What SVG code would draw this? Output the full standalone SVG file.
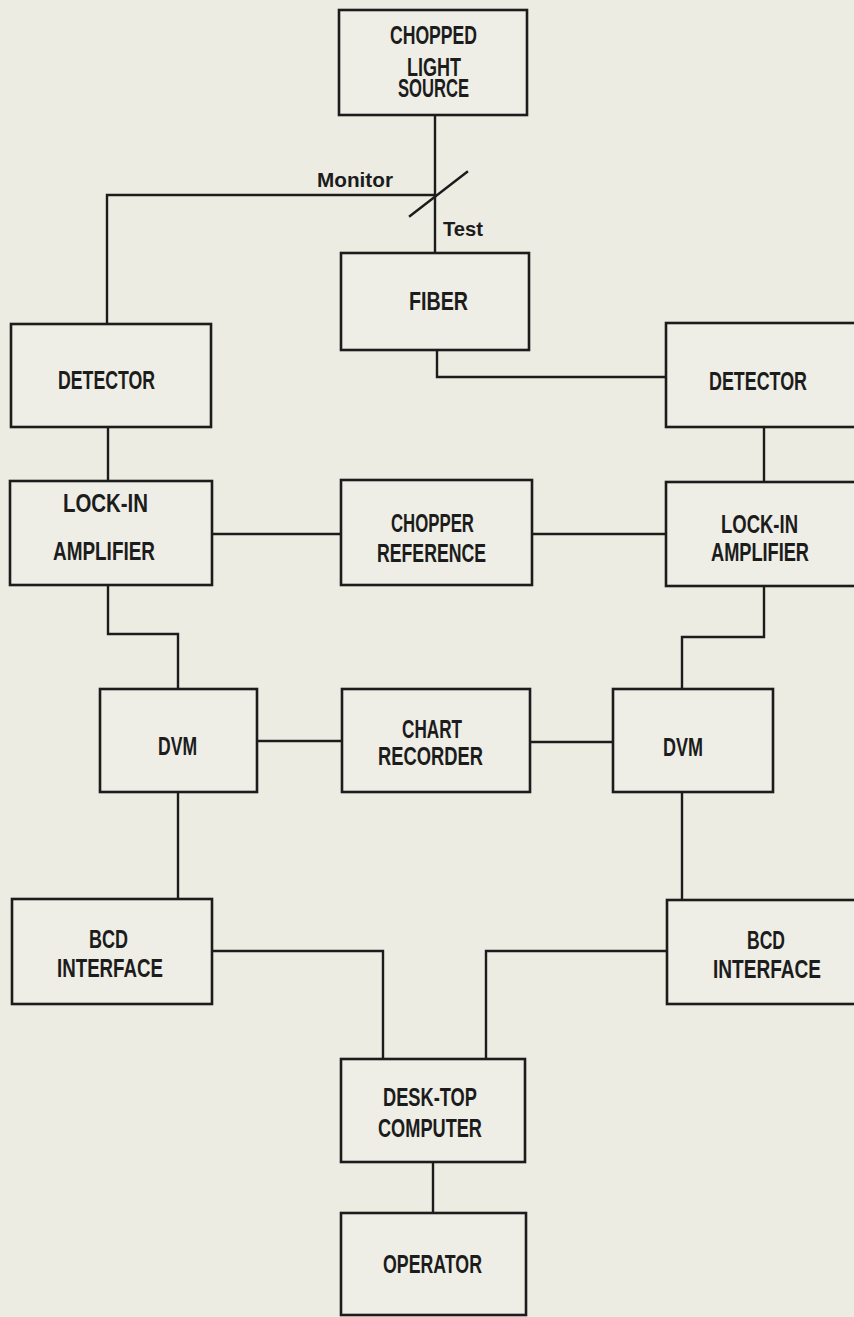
<svg xmlns="http://www.w3.org/2000/svg" width="854" height="1317" viewBox="0 0 854 1317">
<style>
.bg{fill:#ecece3}
.box{fill:#eeeee6;stroke:#1c1c1c;stroke-width:2.6}
.ln{fill:none;stroke:#1c1c1c;stroke-width:2.4;stroke-linejoin:miter;stroke-linecap:square}
.t{font-family:"Liberation Sans",Arial,sans-serif;font-weight:bold;font-size:25px;fill:#1c1c1c}
.lbl{font-family:"Liberation Sans",Arial,sans-serif;font-weight:bold;font-size:21px;fill:#1c1c1c}
</style>
<rect class="bg" x="0" y="0" width="854" height="1317"/>
<g id="connectors">
<path class="ln" d="M435,115 V253"/>
<path class="ln" d="M435,195 H107 V324"/>
<path class="ln" d="M410,216 L467,172"/>
<path class="ln" d="M437,350 V377 H666"/>
<path class="ln" d="M108,427 V481"/>
<path class="ln" d="M764,427 V482"/>
<path class="ln" d="M212,534 H341"/>
<path class="ln" d="M532,534 H666"/>
<path class="ln" d="M108,585 V634 H178 V689"/>
<path class="ln" d="M764,586 V637 H682 V689"/>
<path class="ln" d="M257,741 H342"/>
<path class="ln" d="M530,742 H613"/>
<path class="ln" d="M178,792 V899"/>
<path class="ln" d="M682,792 V900"/>
<path class="ln" d="M212,951 H383 V1059"/>
<path class="ln" d="M667,951 H486 V1059"/>
<path class="ln" d="M433,1162 V1213"/>
<text class="lbl" x="317" y="187" textLength="76" lengthAdjust="spacingAndGlyphs">Monitor</text>
<text class="lbl" x="443" y="236" textLength="40" lengthAdjust="spacingAndGlyphs">Test</text>
</g>
<g id="source">
<rect class="box" x="339" y="10" width="188" height="105"/>
<text class="t" x="390" y="44" textLength="87" lengthAdjust="spacingAndGlyphs">CHOPPED</text>
<text class="t" x="407" y="76" textLength="54" lengthAdjust="spacingAndGlyphs">LIGHT</text>
<text class="t" x="398" y="97" textLength="71" lengthAdjust="spacingAndGlyphs">SOURCE</text>
</g>
<g id="fiber">
<rect class="box" x="341" y="253" width="188" height="97"/>
<text class="t" x="409" y="310" textLength="59" lengthAdjust="spacingAndGlyphs">FIBER</text>
</g>
<g id="detector-left">
<rect class="box" x="11" y="324" width="200" height="103"/>
<text class="t" x="58" y="389" textLength="97" lengthAdjust="spacingAndGlyphs">DETECTOR</text>
</g>
<g id="detector-right">
<rect class="box" x="666" y="323" width="204" height="104"/>
<text class="t" x="709" y="390" textLength="98" lengthAdjust="spacingAndGlyphs">DETECTOR</text>
</g>
<g id="lockin-left">
<rect class="box" x="10" y="481" width="202" height="104"/>
<text class="t" x="63" y="512" textLength="85" lengthAdjust="spacingAndGlyphs">LOCK-IN</text>
<text class="t" x="53" y="560" textLength="102" lengthAdjust="spacingAndGlyphs">AMPLIFIER</text>
</g>
<g id="chopper-reference">
<rect class="box" x="341" y="480" width="191" height="105"/>
<text class="t" x="391" y="532" textLength="83" lengthAdjust="spacingAndGlyphs">CHOPPER</text>
<text class="t" x="377" y="562" textLength="109" lengthAdjust="spacingAndGlyphs">REFERENCE</text>
</g>
<g id="lockin-right">
<rect class="box" x="666" y="482" width="204" height="104"/>
<text class="t" x="721" y="533" textLength="77" lengthAdjust="spacingAndGlyphs">LOCK-IN</text>
<text class="t" x="711" y="561" textLength="98" lengthAdjust="spacingAndGlyphs">AMPLIFIER</text>
</g>
<g id="dvm-left">
<rect class="box" x="100" y="689" width="157" height="103"/>
<text class="t" x="158" y="755" textLength="39" lengthAdjust="spacingAndGlyphs">DVM</text>
</g>
<g id="chart-recorder">
<rect class="box" x="342" y="689" width="188" height="103"/>
<text class="t" x="402" y="738" textLength="60" lengthAdjust="spacingAndGlyphs">CHART</text>
<text class="t" x="378" y="765" textLength="105" lengthAdjust="spacingAndGlyphs">RECORDER</text>
</g>
<g id="dvm-right">
<rect class="box" x="613" y="689" width="160" height="103"/>
<text class="t" x="663" y="756" textLength="40" lengthAdjust="spacingAndGlyphs">DVM</text>
</g>
<g id="bcd-left">
<rect class="box" x="12" y="899" width="200" height="105"/>
<text class="t" x="89" y="948" textLength="39" lengthAdjust="spacingAndGlyphs">BCD</text>
<text class="t" x="57" y="977" textLength="106" lengthAdjust="spacingAndGlyphs">INTERFACE</text>
</g>
<g id="bcd-right">
<rect class="box" x="667" y="900" width="203" height="104"/>
<text class="t" x="747" y="949" textLength="38" lengthAdjust="spacingAndGlyphs">BCD</text>
<text class="t" x="713" y="978" textLength="108" lengthAdjust="spacingAndGlyphs">INTERFACE</text>
</g>
<g id="desktop-computer">
<rect class="box" x="341" y="1059" width="184" height="103"/>
<text class="t" x="383" y="1106" textLength="94" lengthAdjust="spacingAndGlyphs">DESK-TOP</text>
<text class="t" x="378" y="1137" textLength="104" lengthAdjust="spacingAndGlyphs">COMPUTER</text>
</g>
<g id="operator">
<rect class="box" x="341" y="1213" width="185" height="102"/>
<text class="t" x="383" y="1273" textLength="99" lengthAdjust="spacingAndGlyphs">OPERATOR</text>
</g>
</svg>
